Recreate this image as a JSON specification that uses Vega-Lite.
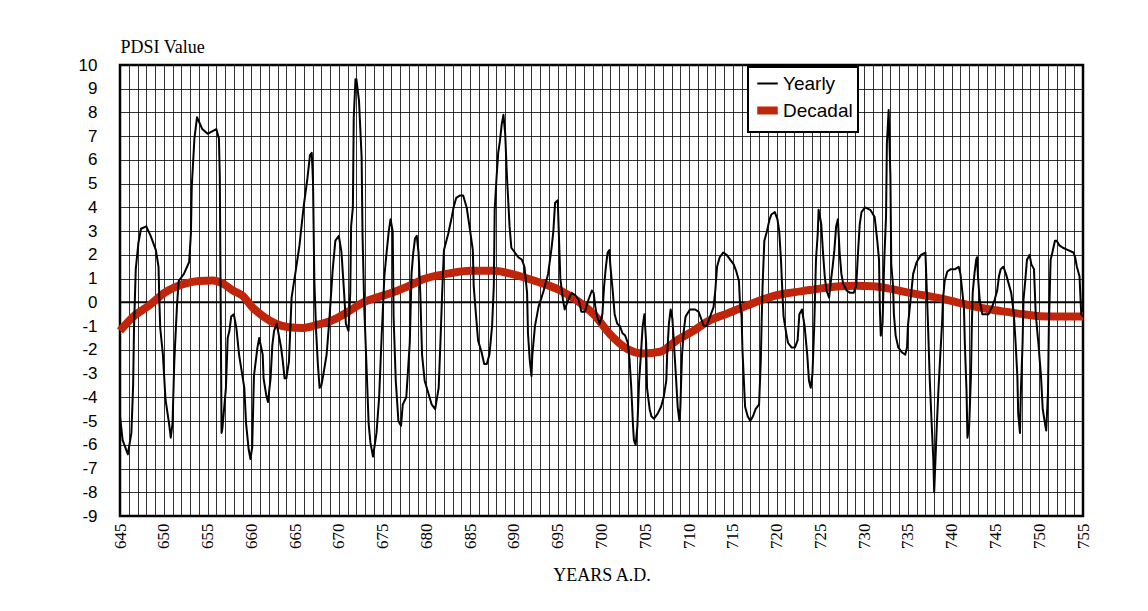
{
  "$schema": "https://vega.github.io/schema/vega-lite/v6.json",
  "width": 963,
  "height": 451,
  "autosize": "none",
  "padding": {"left": 120, "top": 65, "right": 65, "bottom": 95},
  "background": "white",
  "config": {
    "view": {"stroke": "black", "strokeWidth": 2.5},
    "font": "Liberation Sans",
    "legend": {"title": null, "orient": "none", "legendX": 628, "legendY": 2, "fillColor": "white", "strokeColor": "black", "strokeWidth": 2, "padding": 5, "symbolType": "stroke", "symbolSize": 420, "labelFont": "Liberation Sans", "labelFontSize": 19, "labelColor": "black", "rowPadding": 0, "labelOffset": 1}
  },
  "datasets": {
    "yearly": [
      {"year":645.0,"pdsi":-4.8},{"year":645.3,"pdsi":-5.8},{"year":645.9,"pdsi":-6.4},{"year":646.3,"pdsi":-5.5},{"year":646.5,"pdsi":-3.5},{"year":646.6,"pdsi":-1.1},{"year":646.8,"pdsi":1.4},{"year":647.1,"pdsi":2.5},{"year":647.4,"pdsi":3.1},{"year":648.0,"pdsi":3.2},{"year":648.5,"pdsi":2.8},{"year":649.1,"pdsi":2.2},{"year":649.4,"pdsi":1.5},{"year":649.5,"pdsi":0.0},{"year":649.6,"pdsi":-1.1},{"year":649.9,"pdsi":-2.2},{"year":650.2,"pdsi":-4.1},{"year":650.6,"pdsi":-5.1},{"year":650.8,"pdsi":-5.7},{"year":651.0,"pdsi":-5.1},{"year":651.2,"pdsi":-2.5},{"year":651.5,"pdsi":-0.2},{"year":651.7,"pdsi":0.9},{"year":652.3,"pdsi":1.2},{"year":652.9,"pdsi":1.7},{"year":653.1,"pdsi":2.9},{"year":653.2,"pdsi":4.9},{"year":653.5,"pdsi":6.9},{"year":653.8,"pdsi":7.8},{"year":654.4,"pdsi":7.3},{"year":655.0,"pdsi":7.1},{"year":656.0,"pdsi":7.3},{"year":656.3,"pdsi":6.9},{"year":656.4,"pdsi":5.3},{"year":656.6,"pdsi":-5.5},{"year":656.7,"pdsi":-5.3},{"year":657.1,"pdsi":-3.6},{"year":657.3,"pdsi":-1.5},{"year":657.5,"pdsi":-1.2},{"year":657.7,"pdsi":-0.6},{"year":658.0,"pdsi":-0.5},{"year":658.3,"pdsi":-1.1},{"year":658.6,"pdsi":-2.2},{"year":659.2,"pdsi":-3.6},{"year":659.4,"pdsi":-5.1},{"year":659.7,"pdsi":-6.2},{"year":659.9,"pdsi":-6.6},{"year":660.1,"pdsi":-6.1},{"year":660.3,"pdsi":-3.1},{"year":660.7,"pdsi":-1.9},{"year":660.9,"pdsi":-1.5},{"year":661.3,"pdsi":-2.2},{"year":661.4,"pdsi":-3.2},{"year":661.7,"pdsi":-3.9},{"year":661.9,"pdsi":-4.2},{"year":662.2,"pdsi":-3.2},{"year":662.4,"pdsi":-1.8},{"year":662.6,"pdsi":-1.2},{"year":662.9,"pdsi":-0.9},{"year":663.4,"pdsi":-1.9},{"year":663.6,"pdsi":-2.5},{"year":663.8,"pdsi":-3.2},{"year":664.0,"pdsi":-3.2},{"year":664.3,"pdsi":-2.5},{"year":664.6,"pdsi":0.2},{"year":665.1,"pdsi":1.4},{"year":665.5,"pdsi":2.4},{"year":665.7,"pdsi":3.1},{"year":666.0,"pdsi":4.1},{"year":666.4,"pdsi":5.2},{"year":666.7,"pdsi":6.2},{"year":666.9,"pdsi":6.3},{"year":667.0,"pdsi":5.5},{"year":667.05,"pdsi":5.0},{"year":667.2,"pdsi":0.9},{"year":667.4,"pdsi":-1.2},{"year":667.6,"pdsi":-2.6},{"year":667.8,"pdsi":-3.6},{"year":668.0,"pdsi":-3.5},{"year":668.2,"pdsi":-3.1},{"year":668.6,"pdsi":-2.2},{"year":668.9,"pdsi":-0.8},{"year":669.3,"pdsi":1.4},{"year":669.6,"pdsi":2.6},{"year":670.0,"pdsi":2.8},{"year":670.3,"pdsi":2.1},{"year":670.6,"pdsi":0.4},{"year":670.8,"pdsi":-0.9},{"year":671.1,"pdsi":-1.2},{"year":671.3,"pdsi":0.4},{"year":671.4,"pdsi":3.2},{"year":671.6,"pdsi":4.0},{"year":671.7,"pdsi":7.8},{"year":671.9,"pdsi":9.4},{"year":672.0,"pdsi":9.4},{"year":672.3,"pdsi":8.5},{"year":672.6,"pdsi":6.1},{"year":672.7,"pdsi":2.9},{"year":672.9,"pdsi":-0.2},{"year":673.2,"pdsi":-3.1},{"year":673.4,"pdsi":-5.1},{"year":673.6,"pdsi":-5.9},{"year":673.9,"pdsi":-6.5},{"year":674.3,"pdsi":-5.5},{"year":674.6,"pdsi":-4.0},{"year":674.9,"pdsi":-1.3},{"year":675.2,"pdsi":1.1},{"year":675.4,"pdsi":1.9},{"year":675.7,"pdsi":3.0},{"year":675.9,"pdsi":3.5},{"year":676.15,"pdsi":3.0},{"year":676.25,"pdsi":-0.6},{"year":676.5,"pdsi":-3.3},{"year":676.8,"pdsi":-5.0},{"year":677.1,"pdsi":-5.2},{"year":677.3,"pdsi":-4.3},{"year":677.7,"pdsi":-4.0},{"year":678.1,"pdsi":-1.7},{"year":678.3,"pdsi":1.2},{"year":678.5,"pdsi":2.1},{"year":678.7,"pdsi":2.7},{"year":678.9,"pdsi":2.8},{"year":679.1,"pdsi":2.1},{"year":679.3,"pdsi":0.4},{"year":679.5,"pdsi":-2.2},{"year":679.8,"pdsi":-3.3},{"year":680.2,"pdsi":-3.8},{"year":680.6,"pdsi":-4.3},{"year":681.0,"pdsi":-4.5},{"year":681.4,"pdsi":-3.6},{"year":681.6,"pdsi":-1.7},{"year":681.8,"pdsi":0.4},{"year":682.0,"pdsi":2.2},{"year":682.5,"pdsi":2.9},{"year":682.9,"pdsi":3.6},{"year":683.1,"pdsi":4.0},{"year":683.4,"pdsi":4.4},{"year":683.8,"pdsi":4.5},{"year":684.2,"pdsi":4.5},{"year":684.6,"pdsi":4.0},{"year":685.0,"pdsi":3.0},{"year":685.3,"pdsi":2.2},{"year":685.4,"pdsi":0.7},{"year":685.7,"pdsi":-0.7},{"year":685.9,"pdsi":-1.6},{"year":686.3,"pdsi":-2.1},{"year":686.6,"pdsi":-2.6},{"year":686.9,"pdsi":-2.6},{"year":687.2,"pdsi":-2.2},{"year":687.5,"pdsi":-1.0},{"year":687.7,"pdsi":0.7},{"year":687.8,"pdsi":3.9},{"year":688.0,"pdsi":5.2},{"year":688.2,"pdsi":6.3},{"year":688.4,"pdsi":6.8},{"year":688.6,"pdsi":7.5},{"year":688.8,"pdsi":7.9},{"year":689.0,"pdsi":7.1},{"year":689.2,"pdsi":5.3},{"year":689.5,"pdsi":3.2},{"year":689.7,"pdsi":2.3},{"year":690.1,"pdsi":2.1},{"year":690.5,"pdsi":1.9},{"year":690.9,"pdsi":1.8},{"year":691.2,"pdsi":1.5},{"year":691.5,"pdsi":0.4},{"year":691.6,"pdsi":-1.3},{"year":691.8,"pdsi":-2.4},{"year":692.0,"pdsi":-3.1},{"year":692.1,"pdsi":-2.2},{"year":692.4,"pdsi":-1.0},{"year":692.8,"pdsi":-0.2},{"year":693.4,"pdsi":0.5},{"year":693.9,"pdsi":1.2},{"year":694.3,"pdsi":2.3},{"year":694.5,"pdsi":3.0},{"year":694.7,"pdsi":4.2},{"year":695.0,"pdsi":4.3},{"year":695.1,"pdsi":3.2},{"year":695.3,"pdsi":1.0},{"year":695.6,"pdsi":0.1},{"year":695.8,"pdsi":-0.3},{"year":696.2,"pdsi":0.1},{"year":696.6,"pdsi":0.4},{"year":697.0,"pdsi":0.3},{"year":697.4,"pdsi":0.1},{"year":697.7,"pdsi":-0.4},{"year":698.1,"pdsi":-0.4},{"year":698.5,"pdsi":0.1},{"year":698.9,"pdsi":0.5},{"year":699.1,"pdsi":0.4},{"year":699.3,"pdsi":-0.2},{"year":699.5,"pdsi":-0.6},{"year":699.8,"pdsi":-0.9},{"year":700.1,"pdsi":-0.5},{"year":700.3,"pdsi":0.7},{"year":700.5,"pdsi":1.5},{"year":700.7,"pdsi":2.1},{"year":700.9,"pdsi":2.2},{"year":701.0,"pdsi":1.6},{"year":701.3,"pdsi":0.4},{"year":701.5,"pdsi":-0.5},{"year":701.8,"pdsi":-0.9},{"year":702.1,"pdsi":-1.0},{"year":702.4,"pdsi":-1.3},{"year":702.7,"pdsi":-1.4},{"year":703.0,"pdsi":-1.7},{"year":703.2,"pdsi":-2.4},{"year":703.4,"pdsi":-3.6},{"year":703.6,"pdsi":-5.2},{"year":703.7,"pdsi":-5.8},{"year":703.9,"pdsi":-6.0},{"year":704.1,"pdsi":-5.2},{"year":704.3,"pdsi":-3.3},{"year":704.5,"pdsi":-2.2},{"year":704.7,"pdsi":-1.0},{"year":704.9,"pdsi":-0.5},{"year":705.1,"pdsi":-1.7},{"year":705.2,"pdsi":-3.6},{"year":705.5,"pdsi":-4.5},{"year":705.7,"pdsi":-4.8},{"year":706.0,"pdsi":-4.9},{"year":706.4,"pdsi":-4.7},{"year":706.8,"pdsi":-4.4},{"year":707.1,"pdsi":-4.0},{"year":707.4,"pdsi":-3.3},{"year":707.5,"pdsi":-2.2},{"year":707.7,"pdsi":-0.9},{"year":707.9,"pdsi":-0.3},{"year":708.1,"pdsi":-0.7},{"year":708.3,"pdsi":-1.9},{"year":708.5,"pdsi":-3.1},{"year":708.7,"pdsi":-4.4},{"year":708.9,"pdsi":-5.0},{"year":709.0,"pdsi":-4.5},{"year":709.1,"pdsi":-3.3},{"year":709.2,"pdsi":-2.2},{"year":709.4,"pdsi":-1.2},{"year":709.6,"pdsi":-0.6},{"year":710.1,"pdsi":-0.3},{"year":710.7,"pdsi":-0.3},{"year":711.1,"pdsi":-0.4},{"year":711.4,"pdsi":-0.7},{"year":711.7,"pdsi":-1.0},{"year":712.0,"pdsi":-1.0},{"year":712.4,"pdsi":-0.6},{"year":712.8,"pdsi":-0.2},{"year":713.0,"pdsi":0.5},{"year":713.2,"pdsi":1.5},{"year":713.5,"pdsi":1.9},{"year":713.9,"pdsi":2.1},{"year":714.3,"pdsi":2.0},{"year":714.7,"pdsi":1.8},{"year":715.1,"pdsi":1.6},{"year":715.4,"pdsi":1.3},{"year":715.7,"pdsi":0.9},{"year":715.8,"pdsi":0.1},{"year":716.0,"pdsi":-0.6},{"year":716.1,"pdsi":-2.0},{"year":716.3,"pdsi":-3.6},{"year":716.4,"pdsi":-4.4},{"year":716.7,"pdsi":-4.8},{"year":717.0,"pdsi":-5.0},{"year":717.3,"pdsi":-4.8},{"year":717.6,"pdsi":-4.5},{"year":718.0,"pdsi":-4.3},{"year":718.2,"pdsi":-2.4},{"year":718.3,"pdsi":-0.7},{"year":718.4,"pdsi":0.7},{"year":718.6,"pdsi":2.6},{"year":718.9,"pdsi":3.0},{"year":719.2,"pdsi":3.5},{"year":719.4,"pdsi":3.7},{"year":719.8,"pdsi":3.8},{"year":720.1,"pdsi":3.5},{"year":720.3,"pdsi":3.0},{"year":720.5,"pdsi":1.8},{"year":720.7,"pdsi":0.1},{"year":720.8,"pdsi":-0.6},{"year":721.1,"pdsi":-1.3},{"year":721.3,"pdsi":-1.7},{"year":721.7,"pdsi":-1.9},{"year":722.1,"pdsi":-1.9},{"year":722.4,"pdsi":-1.6},{"year":722.6,"pdsi":-0.5},{"year":722.9,"pdsi":-0.3},{"year":723.2,"pdsi":-1.0},{"year":723.5,"pdsi":-2.2},{"year":723.7,"pdsi":-3.3},{"year":723.9,"pdsi":-3.6},{"year":724.1,"pdsi":-3.0},{"year":724.3,"pdsi":-1.0},{"year":724.5,"pdsi":1.8},{"year":724.7,"pdsi":2.9},{"year":724.8,"pdsi":3.9},{"year":725.1,"pdsi":3.3},{"year":725.3,"pdsi":2.1},{"year":725.5,"pdsi":1.1},{"year":725.7,"pdsi":0.5},{"year":726.0,"pdsi":0.2},{"year":726.2,"pdsi":0.9},{"year":726.4,"pdsi":1.5},{"year":726.6,"pdsi":2.2},{"year":726.8,"pdsi":3.2},{"year":727.0,"pdsi":3.5},{"year":727.2,"pdsi":2.1},{"year":727.4,"pdsi":1.2},{"year":727.6,"pdsi":0.8},{"year":728.0,"pdsi":0.5},{"year":728.4,"pdsi":0.4},{"year":728.8,"pdsi":0.4},{"year":729.1,"pdsi":0.7},{"year":729.3,"pdsi":2.1},{"year":729.5,"pdsi":3.3},{"year":729.7,"pdsi":3.8},{"year":730.1,"pdsi":4.0},{"year":730.7,"pdsi":3.9},{"year":731.2,"pdsi":3.6},{"year":731.5,"pdsi":2.6},{"year":731.7,"pdsi":1.8},{"year":731.8,"pdsi":-0.3},{"year":731.9,"pdsi":-1.4},{"year":732.1,"pdsi":-0.9},{"year":732.3,"pdsi":1.8},{"year":732.5,"pdsi":3.6},{"year":732.6,"pdsi":6.7},{"year":732.8,"pdsi":8.1},{"year":733.0,"pdsi":5.3},{"year":733.1,"pdsi":1.6},{"year":733.3,"pdsi":0.7},{"year":733.4,"pdsi":-0.5},{"year":733.6,"pdsi":-1.4},{"year":733.9,"pdsi":-1.9},{"year":734.3,"pdsi":-2.1},{"year":734.7,"pdsi":-2.2},{"year":734.9,"pdsi":-1.9},{"year":735.0,"pdsi":-1.0},{"year":735.3,"pdsi":0.1},{"year":735.6,"pdsi":1.2},{"year":736.0,"pdsi":1.7},{"year":736.5,"pdsi":2.0},{"year":737.0,"pdsi":2.1},{"year":737.1,"pdsi":1.1},{"year":737.3,"pdsi":-1.0},{"year":737.5,"pdsi":-3.3},{"year":737.7,"pdsi":-5.0},{"year":737.9,"pdsi":-6.6},{"year":738.0,"pdsi":-8.0},{"year":738.3,"pdsi":-5.2},{"year":738.5,"pdsi":-3.6},{"year":738.7,"pdsi":-2.2},{"year":738.9,"pdsi":-0.9},{"year":739.0,"pdsi":0.1},{"year":739.2,"pdsi":0.9},{"year":739.5,"pdsi":1.3},{"year":739.9,"pdsi":1.4},{"year":740.4,"pdsi":1.4},{"year":740.8,"pdsi":1.5},{"year":741.0,"pdsi":1.2},{"year":741.2,"pdsi":0.5},{"year":741.4,"pdsi":-0.2},{"year":741.5,"pdsi":-1.7},{"year":741.7,"pdsi":-3.8},{"year":741.8,"pdsi":-5.7},{"year":742.0,"pdsi":-5.2},{"year":742.2,"pdsi":-3.1},{"year":742.3,"pdsi":-1.0},{"year":742.4,"pdsi":0.4},{"year":742.6,"pdsi":1.2},{"year":742.8,"pdsi":1.8},{"year":742.9,"pdsi":1.9},{"year":743.0,"pdsi":1.1},{"year":743.2,"pdsi":0.1},{"year":743.5,"pdsi":-0.5},{"year":743.8,"pdsi":-0.5},{"year":744.2,"pdsi":-0.5},{"year":744.6,"pdsi":-0.2},{"year":744.9,"pdsi":0.1},{"year":745.2,"pdsi":0.5},{"year":745.4,"pdsi":1.1},{"year":745.6,"pdsi":1.4},{"year":745.9,"pdsi":1.5},{"year":746.2,"pdsi":1.2},{"year":746.5,"pdsi":0.8},{"year":746.8,"pdsi":0.4},{"year":747.1,"pdsi":-0.5},{"year":747.3,"pdsi":-1.7},{"year":747.5,"pdsi":-3.1},{"year":747.6,"pdsi":-4.7},{"year":747.8,"pdsi":-5.5},{"year":747.9,"pdsi":-3.8},{"year":748.1,"pdsi":-1.7},{"year":748.2,"pdsi":0.1},{"year":748.4,"pdsi":0.9},{"year":748.6,"pdsi":1.8},{"year":748.9,"pdsi":2.0},{"year":749.1,"pdsi":1.6},{"year":749.4,"pdsi":1.4},{"year":749.6,"pdsi":-0.5},{"year":749.9,"pdsi":-1.7},{"year":750.2,"pdsi":-3.1},{"year":750.4,"pdsi":-4.5},{"year":750.7,"pdsi":-5.2},{"year":750.8,"pdsi":-5.4},{"year":751.0,"pdsi":-3.8},{"year":751.1,"pdsi":-1.0},{"year":751.3,"pdsi":1.8},{"year":751.5,"pdsi":2.1},{"year":751.8,"pdsi":2.6},{"year":752.0,"pdsi":2.6},{"year":752.3,"pdsi":2.4},{"year":752.7,"pdsi":2.3},{"year":753.3,"pdsi":2.2},{"year":753.9,"pdsi":2.1},{"year":754.1,"pdsi":1.9},{"year":754.3,"pdsi":1.5},{"year":754.6,"pdsi":1.1},{"year":754.8,"pdsi":-0.5},{"year":755.0,"pdsi":-0.6}
    ],
    "decadal": [
      {"year":645.0,"pdsi":-1.2},{"year":646.4,"pdsi":-0.64},{"year":648.3,"pdsi":-0.14},{"year":650.2,"pdsi":0.43},{"year":652.1,"pdsi":0.75},{"year":654.0,"pdsi":0.9},{"year":655.6,"pdsi":0.92},{"year":656.7,"pdsi":0.8},{"year":657.9,"pdsi":0.5},{"year":659.0,"pdsi":0.28},{"year":660.1,"pdsi":-0.2},{"year":661.3,"pdsi":-0.57},{"year":662.8,"pdsi":-0.9},{"year":664.3,"pdsi":-1.05},{"year":665.8,"pdsi":-1.08},{"year":667.4,"pdsi":-0.96},{"year":669.3,"pdsi":-0.75},{"year":671.2,"pdsi":-0.36},{"year":672.8,"pdsi":0.0},{"year":674.5,"pdsi":0.22},{"year":676.6,"pdsi":0.48},{"year":678.5,"pdsi":0.78},{"year":679.7,"pdsi":0.98},{"year":682.3,"pdsi":1.2},{"year":685.0,"pdsi":1.33},{"year":687.7,"pdsi":1.33},{"year":689.9,"pdsi":1.18},{"year":692.6,"pdsi":0.88},{"year":695.3,"pdsi":0.5},{"year":697.2,"pdsi":0.08},{"year":699.1,"pdsi":-0.5},{"year":701.0,"pdsi":-1.35},{"year":702.9,"pdsi":-1.95},{"year":704.8,"pdsi":-2.15},{"year":706.7,"pdsi":-2.08},{"year":708.6,"pdsi":-1.6},{"year":710.5,"pdsi":-1.2},{"year":712.4,"pdsi":-0.75},{"year":714.3,"pdsi":-0.48},{"year":716.2,"pdsi":-0.2},{"year":718.1,"pdsi":0.08},{"year":720.0,"pdsi":0.3},{"year":721.9,"pdsi":0.42},{"year":723.8,"pdsi":0.52},{"year":725.3,"pdsi":0.6},{"year":727.2,"pdsi":0.68},{"year":729.1,"pdsi":0.7},{"year":731.0,"pdsi":0.68},{"year":732.9,"pdsi":0.58},{"year":734.9,"pdsi":0.42},{"year":736.8,"pdsi":0.3},{"year":738.7,"pdsi":0.17},{"year":740.6,"pdsi":0.0},{"year":742.5,"pdsi":-0.17},{"year":744.4,"pdsi":-0.3},{"year":746.3,"pdsi":-0.4},{"year":748.2,"pdsi":-0.5},{"year":750.1,"pdsi":-0.58},{"year":752.0,"pdsi":-0.6},{"year":755.0,"pdsi":-0.6}
    ]
  },
  "encoding": {
    "x": {
      "field": "year", "type": "quantitative",
      "scale": {"domain": [645, 755], "nice": false, "zero": false},
      "axis": {
        "values": [645,646,647,648,649,650,651,652,653,654,655,656,657,658,659,660,661,662,663,664,665,666,667,668,669,670,671,672,673,674,675,676,677,678,679,680,681,682,683,684,685,686,687,688,689,690,691,692,693,694,695,696,697,698,699,700,701,702,703,704,705,706,707,708,709,710,711,712,713,714,715,716,717,718,719,720,721,722,723,724,725,726,727,728,729,730,731,732,733,734,735,736,737,738,739,740,741,742,743,744,745,746,747,748,749,750,751,752,753,754,755],
        "labelExpr": "datum.value % 5 === 0 ? '' + datum.value : ''",
        "labelAngle": -90, "labelAlign": "right", "labelBaseline": "middle",
        "labelFont": "Liberation Serif", "labelFontSize": 17, "labelColor": "black",
        "labelPadding": 7, "labelOverlap": false, "labelBound": false, "labelFlush": false,
        "ticks": false, "domain": false,
        "grid": true, "gridColor": "#000", "gridWidth": 1, "gridOpacity": 0.8,
        "title": "YEARS A.D.", "titleFont": "Liberation Serif", "titleFontSize": 18,
        "titleFontWeight": "normal", "titleColor": "black", "titlePadding": 18
      }
    },
    "y": {
      "field": "pdsi", "type": "quantitative",
      "scale": {"domain": [-9, 10], "nice": false, "zero": false},
      "axis": {
        "values": [-9,-8,-7,-6,-5,-4,-3,-2,-1,0,1,2,3,4,5,6,7,8,9,10],
        "labelExpr": "datum.value < 0 ? '-' + abs(datum.value) : '' + datum.value",
        "labelFont": "Liberation Sans", "labelFontSize": 17, "labelColor": "black",
        "labelPadding": 23, "ticks": false, "domain": false,
        "labelOverlap": false, "labelBound": false, "labelFlush": false,
        "grid": true, "gridColor": "#000", "gridWidth": 1, "gridOpacity": 0.8,
        "title": "PDSI Value", "titleAngle": 0, "titleX": 0, "titleY": -13,
        "titleAlign": "left", "titleBaseline": "alphabetic",
        "titleFont": "Liberation Serif", "titleFontSize": 18, "titleFontWeight": "normal", "titleColor": "black"
      }
    }
  },
  "layer": [
    {
      "data": {"values": [{"zero": 0}]},
      "mark": {"type": "rule", "color": "black", "strokeWidth": 2},
      "encoding": {"y": {"field": "zero", "type": "quantitative"}, "x": null}
    },
    {
      "data": {"name": "decadal"},
      "transform": [{"calculate": "'Decadal'", "as": "series"}],
      "mark": {"type": "line", "interpolate": "monotone", "strokeCap": "butt"},
      "encoding": {
        "color": {"field": "series", "type": "nominal", "title": null, "scale": {"domain": ["Yearly", "Decadal"], "range": ["black", "#c0250a"]}},
        "strokeWidth": {"field": "series", "type": "nominal", "title": null, "scale": {"domain": ["Yearly", "Decadal"], "range": [2, 8]}}
      }
    },
    {
      "data": {"name": "yearly"},
      "transform": [{"calculate": "'Yearly'", "as": "series"}],
      "mark": {"type": "line", "strokeJoin": "round"},
      "encoding": {
        "color": {"field": "series", "type": "nominal", "title": null, "scale": {"domain": ["Yearly", "Decadal"], "range": ["black", "#c0250a"]}},
        "strokeWidth": {"field": "series", "type": "nominal", "title": null, "scale": {"domain": ["Yearly", "Decadal"], "range": [2, 8]}}
      }
    }
  ]
}
